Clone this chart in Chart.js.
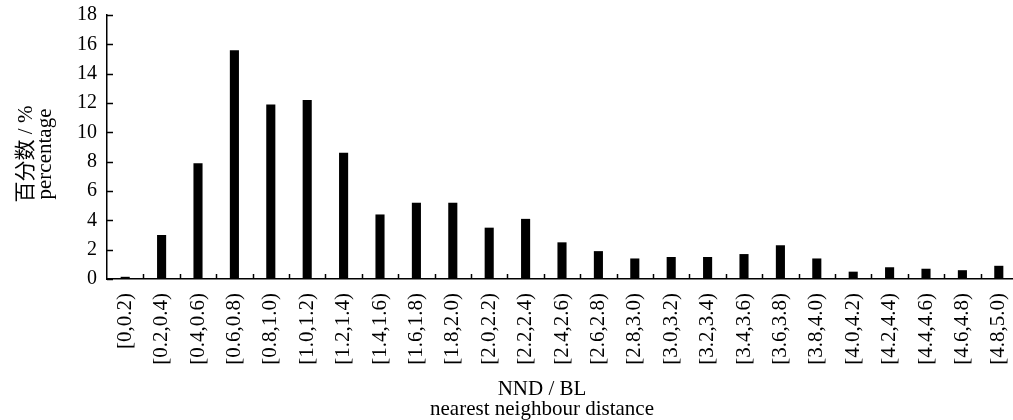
<!DOCTYPE html>
<html>
<head>
<meta charset="utf-8">
<script src="https://cdn.jsdelivr.net/npm/chart.js@4"></script>
<style>
  html, body { margin: 0; padding: 0; background: #fff; overflow: hidden; }
  #wrap { width: 1017px; height: 420px; position: relative; }
</style>
</head>
<body>
<div id="wrap"><canvas id="grafico"></canvas></div>
<script>
// DATI
const categorie = ['[0,0.2)', '[0.2,0.4)', '[0.4,0.6)', '[0.6,0.8)', '[0.8,1.0)', '[1.0,1.2)', '[1.2,1.4)',
  '[1.4,1.6)', '[1.6,1.8)', '[1.8,2.0)', '[2.0,2.2)', '[2.2,2.4)', '[2.4,2.6)', '[2.6,2.8)', '[2.8,3.0)',
  '[3.0,3.2)', '[3.2,3.4)', '[3.4,3.6)', '[3.6,3.8)', '[3.8,4.0)', '[4.0,4.2)', '[4.2,4.4)', '[4.4,4.6)',
  '[4.6,4.8)', '[4.8,5.0)'];
const percentuali = [0.15, 3.0, 7.9, 15.6, 11.9, 12.2, 8.6, 4.4, 5.2, 5.2, 3.5, 4.1, 2.5, 1.9, 1.4,
  1.5, 1.5, 1.7, 2.3, 1.4, 0.5, 0.8, 0.7, 0.6, 0.9];
const titoloY = ['百分数 / %', 'percentage'];
const titoloX = ['NND / BL', 'nearest neighbour distance'];

const serif = '"Liberation Serif", "Times New Roman", "Noto Sans CJK SC", serif';

// tacche verso l'interno sugli assi + titoli degli assi
const extraPlugin = {
  id: 'extra',
  afterDraw(chart) {
    const ctx = chart.ctx;
    const x = chart.scales.x;
    const y = chart.scales.y;
    const area = chart.chartArea;
    ctx.save();
    ctx.strokeStyle = '#000';
    ctx.lineWidth = 1.5;
    for (let i = 1; i < categorie.length; i++) {
      const px = Math.round((x.getPixelForValue(i - 1) + x.getPixelForValue(i)) / 2) + 0.5;
      ctx.beginPath();
      ctx.moveTo(px, area.bottom);
      ctx.lineTo(px, area.bottom - 5);
      ctx.stroke();
    }
    y.ticks.forEach(t => {
      const py = Math.round(y.getPixelForValue(t.value)) + 0.5;
      ctx.beginPath();
      ctx.moveTo(area.left, py);
      ctx.lineTo(area.left + 6, py);
      ctx.stroke();
    });

    ctx.fillStyle = '#000';
    ctx.textAlign = 'center';
    ctx.textBaseline = 'alphabetic';
    ctx.font = '21px ' + serif;
    ctx.fillText(titoloX[0], 542, 395);
    ctx.fillText(titoloX[1], 542, 415);

    ctx.translate(0, 154);
    ctx.rotate(-Math.PI / 2);
    ctx.fillText(titoloY[0], 0, 32);
    ctx.fillText(titoloY[1], 0, 51);
    ctx.restore();
  }
};

new Chart(document.getElementById('grafico'), {
  type: 'bar',
  data: {
    labels: categorie,
    datasets: [{
      data: percentuali,
      backgroundColor: '#000',
      borderWidth: 0,
      barPercentage: 0.25,
      categoryPercentage: 1
    }]
  },
  options: {
    responsive: true,
    maintainAspectRatio: false,
    animation: false,
    layout: { padding: { top: 15, right: 0, left: 0, bottom: 0 } },
    plugins: {
      legend: { display: false },
      tooltip: { enabled: false }
    },
    scales: {
      x: {
        afterFit: s => { s.height = 141; s.paddingLeft = 0; s.paddingRight = 0; },
        grid: { display: false, drawTicks: false },
        border: { display: true, color: '#000', width: 1.5 },
        ticks: {
          minRotation: 90,
          maxRotation: 90,
          autoSkip: false,
          padding: 14,
          color: '#000',
          font: { family: serif, size: 21 }
        }
      },
      y: {
        min: 0,
        max: 18,
        afterFit: s => { s.width = 107; s.paddingTop = 0; s.paddingBottom = 0; },
        grid: { display: false, drawTicks: false },
        border: { display: true, color: '#000', width: 1.5 },
        ticks: {
          stepSize: 2,
          padding: 10,
          color: '#000',
          font: { family: serif, size: 20 }
        }
      }
    }
  },
  plugins: [extraPlugin]
});
</script>
</body>
</html>
